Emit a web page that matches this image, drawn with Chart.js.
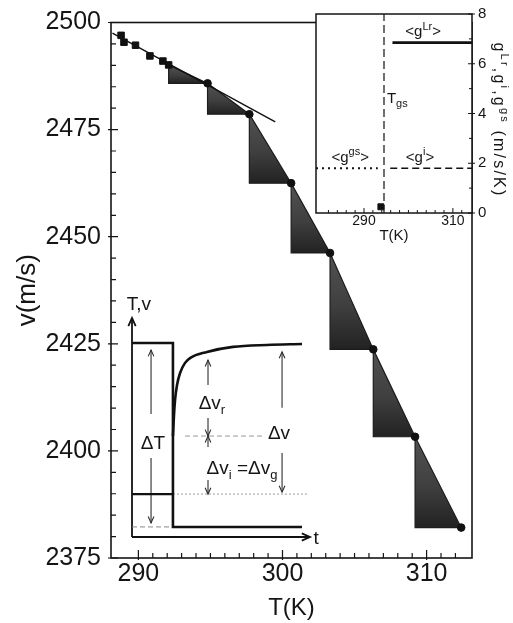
<!DOCTYPE html>
<html>
<head>
<meta charset="utf-8">
<script src="https://cdn.jsdelivr.net/npm/chart.js@4.4.1/dist/chart.umd.min.js"></script>
<style>
  html, body { margin: 0; padding: 0; background: #fff; }
  #wrap { position: relative; width: 513px; height: 623px; }
  #wrap canvas { position: absolute; }
</style>
</head>
<body>
<div id="wrap">
  <canvas id="mainChart" width="513" height="623" style="left:0;top:0;width:513px;height:623px"></canvas>
  <canvas id="insetChart" width="213" height="245" style="left:300px;top:0;width:213px;height:245px"></canvas>
  <canvas id="sketchChart" width="230" height="260" style="left:100px;top:290px;width:230px;height:260px"></canvas>
</div>
<script>
// main plot: sound velocity vs temperature
var squareT = [288.8, 289.0, 289.8, 290.8, 291.7, 292.1];
var squareV = [2497.0, 2495.4, 2494.7, 2492.2, 2491.0, 2490.1];
var circleT = [294.8, 297.7, 300.6, 303.3, 306.3, 309.2, 312.4];
var circleV = [2485.8, 2478.6, 2462.5, 2446.2, 2423.7, 2403.3, 2382.1];
var tangentT = [288.2, 299.5];
var tangentV = [2497.5, 2476.8];
var mainTickLabels = [290, 300, 310];
var vTickLabels = [2375, 2400, 2425, 2450, 2475, 2500];

// inset: gradients
var insetTickLabels = [290, 310];
var gTickLabels = [0, 2, 4, 6, 8];
var gLrT = [296.4, 314.3], gLrV = [6.85, 6.85];
var gIT = [295.9, 314.3], gIV = [1.8, 1.8];
var gGsT = [279.2, 293.1], gGsV = [1.8, 1.8];
var tgsT = [294.5, 294.5], tgsV = [0, 8];
var sqT = [293.8], sqV = [0.25];
var insetLabelText = [
  [['<g', 0], ['Lr', 1], ['>', 0]],
  [['T', 0], ['gs', -1]],
  [['<g', 0], ['gs', 1], ['>', 0]],
  [['<g', 0], ['i', 1], ['>', 0]]
];
var insetLabelT = [303.3, 297.5, 286.9, 302.6];
var insetLabelG = [7.32, 4.64, 2.28, 2.28];
var insetTitle = [['g', 0], ['Lr', 1], [',g', 0], ['i', 1], [',g', 0], ['gs', 1], [' (m/s/K)', 0]];

// schematic: T and v against time
var stepT = [0, 2.3, 2.3, 9.55], stepY = [8.86, 8.86, 0.46, 0.46];
var boxT = [0, 2.3], boxY = [1.96, 1.96];
var curveT = [2.3, 2.36, 2.42, 2.53, 2.70, 2.98, 3.26, 4.21, 5.67, 7.58, 9.55];
var curveY = [4.61, 5.57, 6.26, 6.94, 7.49, 7.95, 8.17, 8.45, 8.68, 8.77, 8.81];
var baseT = [2.3, 9.9], baseY = [1.96, 1.96];
var midT = [2.98, 7.36], midY = [4.61, 4.61];
var lowT = [0, 2.3], lowY = [0.46, 0.46];
var arrowX = [1.07, 1.07, 4.27, 4.27, 4.27, 4.27, 8.43, 8.43];
var arrowFrom = [5.62, 3.61, 6.94, 5.43, 4.11, 2.6, 5.9, 3.84];
var arrowTo = [8.54, 0.64, 8.08, 4.61, 4.61, 1.96, 8.45, 2.05];
var sketchLabelText = [
  [['T,v', 0]],
  [['t', 0]],
  [['\u0394T', 0]],
  [['\u0394v', 0], ['r', -1]],
  [['\u0394v', 0], ['i', -1], [' =\u0394v', 0], ['g', -1]],
  [['\u0394v', 0]]
];
var sketchLabelX = [0.39, 10.34, 1.18, 4.49, 6.18, 8.26];
var sketchLabelY = [10.68, 0, 4.34, 6.16, 3.2, 4.79];

var FONT = '"Liberation Sans", Arial, Helvetica, sans-serif';
Chart.defaults.font.family = FONT;
Chart.defaults.color = '#151515';

function pts(xs, ys) {
  return xs.map(function (x, i) { return {x: x, y: ys[i]}; });
}

// text with sub/superscripts, centred on (x, y)
function drawRich(ctx, parts, x, y, size, spacing) {
  var small = Math.round(size * 0.7);
  var w = 0;
  ctx.letterSpacing = (spacing || 0) + 'px';
  parts.forEach(function (p) {
    ctx.font = (p[1] ? small : size) + 'px ' + FONT;
    w += ctx.measureText(p[0]).width;
  });
  var cx = x - w / 2;
  var base = y + size * 0.36;
  ctx.textAlign = 'left';
  ctx.textBaseline = 'alphabetic';
  parts.forEach(function (p) {
    ctx.font = (p[1] ? small : size) + 'px ' + FONT;
    var dy = p[1] === 1 ? -size * 0.42 : (p[1] === -1 ? size * 0.28 : 0);
    ctx.fillText(p[0], cx, base + dy);
    cx += ctx.measureText(p[0]).width;
  });
  ctx.letterSpacing = '0px';
}

var mainFrame = {
  id: 'mainFrame',
  afterDraw: function (chart) {
    var ctx = chart.ctx, a = chart.chartArea;
    var sx = chart.scales.x, sy = chart.scales.y;
    ctx.save();
    ctx.strokeStyle = '#151515';
    ctx.lineWidth = 1.6;
    ctx.strokeRect(a.left, a.top, a.right - a.left, a.bottom - a.top);
    ctx.lineWidth = 1.2;
    ctx.beginPath();
    sx.ticks.forEach(function (t) {
      if (Math.abs(t.value - Math.round(t.value)) > 1e-6) return;
      var p = sx.getPixelForValue(t.value);
      var major = mainTickLabels.indexOf(t.value) >= 0;
      ctx.moveTo(p, a.bottom + (major ? 2 : 0));
      ctx.lineTo(p, a.bottom - (major ? 8 : 5));
    });
    sy.ticks.forEach(function (t) {
      var p = sy.getPixelForValue(t.value);
      var major = vTickLabels.indexOf(t.value) >= 0;
      ctx.moveTo(a.left - (major ? 3 : 0), p);
      ctx.lineTo(a.left + (major ? 7 : 5), p);
    });
    ctx.stroke();
    ctx.restore();
  }
};

var insetFrame = {
  id: 'insetFrame',
  beforeDraw: function (chart) {
    var ctx = chart.ctx, a = chart.chartArea;
    ctx.save();
    ctx.fillStyle = '#fff';
    ctx.fillRect(a.left, a.top, a.right - a.left, a.bottom - a.top);
    ctx.restore();
  },
  afterDraw: function (chart) {
    var ctx = chart.ctx, a = chart.chartArea;
    var sx = chart.scales.x, sy = chart.scales.y;
    ctx.save();
    ctx.strokeStyle = '#151515';
    ctx.lineWidth = 1.5;
    ctx.strokeRect(a.left, a.top, a.right - a.left, a.bottom - a.top);
    ctx.lineWidth = 1;
    ctx.beginPath();
    sx.ticks.forEach(function (t) {
      if (Math.abs(t.value - Math.round(t.value)) > 1e-6) return;
      var p = sx.getPixelForValue(t.value);
      var major = insetTickLabels.indexOf(t.value) >= 0;
      ctx.moveTo(p, a.bottom);
      ctx.lineTo(p, a.bottom - (major ? 5 : 3));
    });
    sy.ticks.forEach(function (t) {
      var p = sy.getPixelForValue(t.value);
      var major = gTickLabels.indexOf(t.value) >= 0;
      ctx.moveTo(a.right + (major ? 3 : 0), p);
      ctx.lineTo(a.right - (major ? 4 : 3), p);
    });
    ctx.stroke();
    ctx.fillStyle = '#151515';
    insetLabelText.forEach(function (parts, i) {
      drawRich(ctx, parts, sx.getPixelForValue(insetLabelT[i]), sy.getPixelForValue(insetLabelG[i]), 15);
    });
    ctx.translate(200, 120);
    ctx.rotate(Math.PI / 2);
    drawRich(ctx, insetTitle, 0, 0, 16, 2.2);
    ctx.restore();
  }
};

var arrowHeads = {
  id: 'arrowHeads',
  afterDatasetsDraw: function (chart) {
    var ctx = chart.ctx;
    ctx.save();
    chart.data.datasets.forEach(function (ds, k) {
      if (!ds.arrowHead) return;
      var els = chart.getDatasetMeta(k).data;
      var a = els[els.length - 2], b = els[els.length - 1];
      var ang = Math.atan2(b.y - a.y, b.x - a.x), L = ds.arrowHead;
      ctx.strokeStyle = ds.borderColor;
      ctx.lineWidth = ds.borderWidth;
      ctx.beginPath();
      ctx.moveTo(b.x - L * Math.cos(ang - 0.42), b.y - L * Math.sin(ang - 0.42));
      ctx.lineTo(b.x, b.y);
      ctx.lineTo(b.x - L * Math.cos(ang + 0.42), b.y - L * Math.sin(ang + 0.42));
      ctx.stroke();
    });
    ctx.fillStyle = '#151515';
    var sx = chart.scales.x, sy = chart.scales.y;
    sketchLabelText.forEach(function (parts, i) {
      drawRich(chart.ctx, parts, sx.getPixelForValue(sketchLabelX[i]), sy.getPixelForValue(sketchLabelY[i]), 19);
    });
    ctx.restore();
  }
};

// ---- main chart ----
var pathT = [squareT[squareT.length - 1]].concat(circleT);
var pathV = [squareV[squareV.length - 1]].concat(circleV);
var mainSets = [
  { data: pts(circleT, circleV), showLine: false, pointStyle: 'circle', pointRadius: 3.8,
    backgroundColor: '#111', borderColor: '#111', order: 0 },
  { data: pts(squareT, squareV), showLine: false, pointStyle: 'rect', pointRadius: 4.6,
    backgroundColor: '#111', borderColor: '#111', order: 1 },
  { data: pts(tangentT, tangentV), borderColor: '#111', borderWidth: 1.4, pointRadius: 0, order: 2 }
];
for (var i = 1; i < pathT.length; i++) {
  mainSets.push({
    data: [
      {x: pathT[i - 1], y: pathV[i - 1]},
      {x: pathT[i - 1], y: pathV[i]},
      {x: pathT[i], y: pathV[i]},
      {x: pathT[i - 1], y: pathV[i - 1]}
    ],
    borderColor: '#1c1c1c', borderWidth: 1.2, backgroundColor: '#3c3c3c',
    fill: 'shape', pointRadius: 0, tension: 0, order: 3, shade: i
  });
}

var mainChart = new Chart(document.getElementById('mainChart'), {
  type: 'line',
  data: { datasets: mainSets },
  options: {
    responsive: false, animation: false, events: [], devicePixelRatio: 1,
    layout: { padding: { left: 0, top: 14, right: 41, bottom: 0 } },
    plugins: { legend: { display: false }, tooltip: { enabled: false } },
    scales: {
      x: {
        type: 'linear', min: 288.1, max: 313.15,
        grid: { display: false, drawTicks: false }, border: { display: false },
        ticks: {
          stepSize: 1, autoSkip: false, maxRotation: 0, padding: 4,
          font: { size: 25, lineHeight: 1 }, color: '#151515',
          callback: function (v) { return mainTickLabels.indexOf(v) >= 0 ? String(v) : ''; }
        },
        title: { display: true, text: 'T(K)', color: '#151515', font: { size: 24 }, padding: { top: 1.6, bottom: 0 } },
        afterFit: function (s) { s.height = 65; }
      },
      y: {
        min: 2375, max: 2500,
        grid: { display: false, drawTicks: false }, border: { display: false },
        ticks: {
          stepSize: 5, autoSkip: false, padding: 10,
          font: { size: 25, lineHeight: 1 }, color: '#151515',
          callback: function (v) { return vTickLabels.indexOf(v) >= 0 ? String(v) : ''; }
        },
        title: { display: true, text: 'v(m/s)', color: '#151515', font: { size: 26 }, padding: { top: 12.4, bottom: 0 } },
        afterFit: function (s) { s.width = 111; }
      }
    }
  },
  plugins: [mainFrame]
});

// darker toward the bottom of each step triangle, as in the scan
var yScale = mainChart.scales.y;
mainChart.data.datasets.forEach(function (ds) {
  if (!ds.shade) return;
  var top = yScale.getPixelForValue(pathV[ds.shade - 1]);
  var bottom = yScale.getPixelForValue(pathV[ds.shade]);
  var g = mainChart.ctx.createLinearGradient(0, top, 0, bottom);
  g.addColorStop(0, '#525252');
  g.addColorStop(0.55, '#3f3f3f');
  g.addColorStop(1, '#222222');
  ds.backgroundColor = g;
});
mainChart.update('none');

// ---- inset chart ----
new Chart(document.getElementById('insetChart'), {
  type: 'line',
  data: {
    datasets: [
      { data: pts(gLrT, gLrV), borderColor: '#111', borderWidth: 2.6, pointRadius: 0 },
      { data: pts(gIT, gIV), borderColor: '#111', borderWidth: 1.6, borderDash: [7, 4], pointRadius: 0 },
      { data: pts(gGsT, gGsV), borderColor: '#111', borderWidth: 1.8, borderDash: [2, 4], pointRadius: 0 },
      { data: pts(tgsT, tgsV), borderColor: '#111', borderWidth: 1.2, borderDash: [8, 4], pointRadius: 0 },
      { data: pts(sqT, sqV), showLine: false, pointStyle: 'rect', pointRadius: 4.2,
        backgroundColor: '#111', borderColor: '#111' }
    ]
  },
  options: {
    responsive: false, animation: false, events: [], devicePixelRatio: 1,
    layout: { padding: { left: 16, top: 14, right: 0, bottom: 0 } },
    plugins: { legend: { display: false }, tooltip: { enabled: false } },
    scales: {
      x: {
        type: 'linear', min: 279.2, max: 314.3,
        grid: { display: false, drawTicks: false }, border: { display: false },
        ticks: {
          stepSize: 2, autoSkip: false, maxRotation: 0, padding: 1,
          font: { size: 14, lineHeight: 1 }, color: '#151515',
          callback: function (v) { return insetTickLabels.indexOf(v) >= 0 ? String(v) : ''; }
        },
        title: { display: true, text: 'T(K)', color: '#151515', font: { size: 15 }, padding: { top: 2, bottom: 0 } },
        afterFit: function (s) { s.height = 32; }
      },
      y: {
        position: 'right', min: 0, max: 8,
        grid: { display: false, drawTicks: false }, border: { display: false },
        ticks: {
          stepSize: 1, autoSkip: false, padding: 6,
          font: { size: 15, lineHeight: 1 }, color: '#151515',
          callback: function (v) { return gTickLabels.indexOf(v) >= 0 ? String(v) : ''; }
        },
        afterFit: function (s) { s.width = 41; }
      }
    }
  },
  plugins: [insetFrame]
});

// ---- schematic ----
var thin = '#2e2e2e';
var sketchSets = [
  { data: pts(stepT, stepY), borderColor: '#111', borderWidth: 2.6 },
  { data: pts(boxT, boxY), borderColor: '#111', borderWidth: 2.4 },
  { data: pts(curveT, curveY), borderColor: '#111', borderWidth: 2.6, cubicInterpolationMode: 'monotone' },
  { data: pts(baseT, baseY), borderColor: '#9a9a9a', borderWidth: 1, borderDash: [2, 2] },
  { data: pts(midT, midY), borderColor: '#9a9a9a', borderWidth: 1, borderDash: [5, 3] },
  { data: pts(lowT, lowY), borderColor: '#8a8a8a', borderWidth: 1, borderDash: [5, 3] },
  { data: pts([0, 10], [0, 0]), borderColor: '#111', borderWidth: 1.8, arrowHead: 9 },
  { data: pts([0, 0], [0, 10]), borderColor: '#111', borderWidth: 1.8, arrowHead: 9 }
];
arrowX.forEach(function (x, k) {
  sketchSets.push({ data: pts([x, x], [arrowFrom[k], arrowTo[k]]), borderColor: thin, borderWidth: 1.1, arrowHead: 7 });
});
sketchSets.forEach(function (ds) { ds.pointRadius = 0; ds.clip = false; ds.fill = false; });

new Chart(document.getElementById('sketchChart'), {
  type: 'line',
  data: { datasets: sketchSets },
  options: {
    responsive: false, animation: false, events: [], devicePixelRatio: 1,
    layout: { padding: { left: 32, top: 28, right: 20, bottom: 13 } },
    plugins: { legend: { display: false }, tooltip: { enabled: false } },
    scales: {
      x: { type: 'linear', min: 0, max: 10, display: false },
      y: { min: 0, max: 10, display: false }
    }
  },
  plugins: [arrowHeads]
});
</script>
</body>
</html>
